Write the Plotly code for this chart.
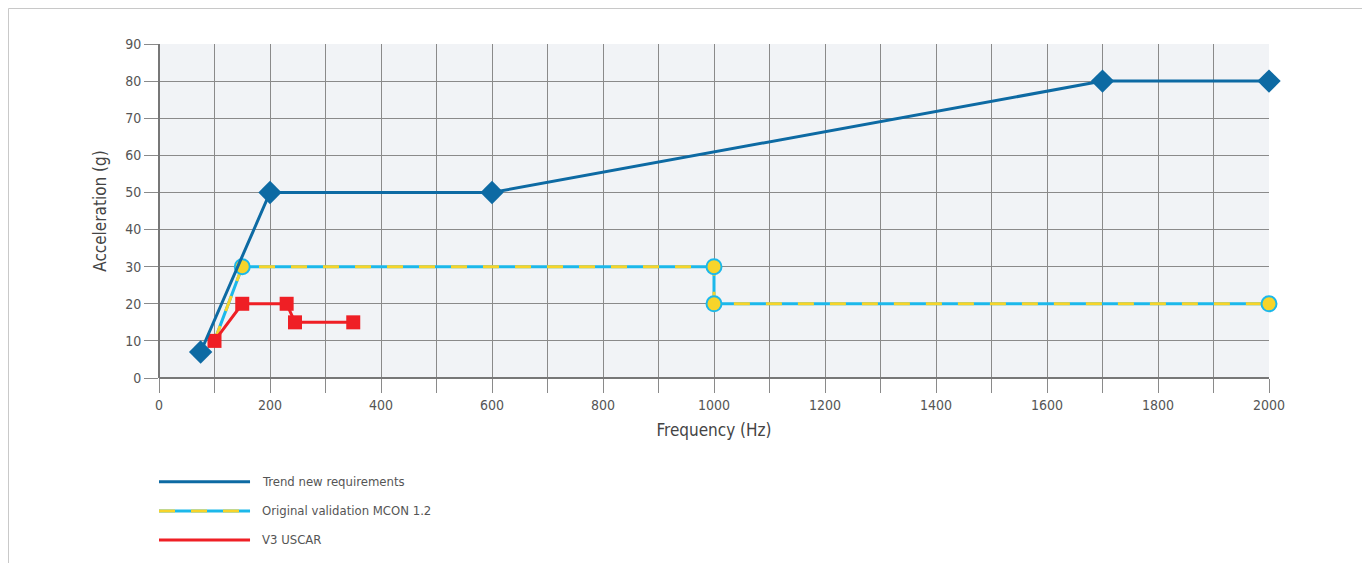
import plotly.graph_objects as go

# Data
trend_x = [75, 200, 600, 1700, 2000]
trend_y = [7, 50, 50, 80, 80]

orig_x = [100, 150, 1000, 1000, 2000]
orig_y = [10, 30, 30, 20, 20]

uscar_x = [100, 150, 230, 245, 350]
uscar_y = [10, 20, 20, 15, 15]

x_ticks = list(range(0, 2001, 100))
x_labels = [str(v) if v % 200 == 0 else "" for v in x_ticks]
y_ticks = list(range(0, 91, 10))

legend_names = ["Trend new requirements", "Original validation MCON 1.2", "V3 USCAR"]

BLUE = "#0d6aa3"
CYAN = "#1cb8ea"
YELLOW = "#f7d42a"
RED = "#ef1f25"
FONT = "DejaVu Sans Condensed, Liberation Sans Narrow, sans-serif"

fig = go.Figure()

# Original validation: cyan solid base + yellow dashes on top
fig.add_trace(go.Scatter(x=orig_x, y=orig_y, mode="lines", cliponaxis=False,
                         line=dict(color=CYAN, width=3), hoverinfo="skip"))
fig.add_trace(go.Scatter(x=orig_x, y=orig_y, mode="lines", cliponaxis=False,
                         line=dict(color=YELLOW, width=3, dash="16px,16px"), hoverinfo="skip"))
fig.add_trace(go.Scatter(x=orig_x[1:], y=orig_y[1:], mode="markers", cliponaxis=False,
                         marker=dict(symbol="circle", size=15, color=YELLOW,
                                     line=dict(color=CYAN, width=2))))

# V3 USCAR
fig.add_trace(go.Scatter(x=uscar_x, y=uscar_y, mode="lines+markers", cliponaxis=False,
                         line=dict(color=RED, width=3),
                         marker=dict(symbol="square", size=14, color=RED)))

# Trend
fig.add_trace(go.Scatter(x=trend_x, y=trend_y, mode="lines+markers", cliponaxis=False,
                         line=dict(color=BLUE, width=3),
                         marker=dict(symbol="diamond", size=18, color=BLUE)))

# Manual legend
shapes = []
annotations = []
leg_y = [-0.311, -0.398, -0.485]
for i, (name, yy) in enumerate(zip(legend_names, leg_y)):
    if i == 0:
        shapes.append(dict(type="line", xref="paper", yref="paper", x0=0, x1=0.082,
                           y0=yy, y1=yy, line=dict(color=BLUE, width=3)))
    elif i == 1:
        shapes.append(dict(type="line", xref="paper", yref="paper", x0=0, x1=0.082,
                           y0=yy, y1=yy, line=dict(color=CYAN, width=3)))
        shapes.append(dict(type="line", xref="paper", yref="paper", x0=0, x1=0.082,
                           y0=yy, y1=yy, line=dict(color=YELLOW, width=3, dash="16px,16px")))
    else:
        shapes.append(dict(type="line", xref="paper", yref="paper", x0=0, x1=0.082,
                           y0=yy, y1=yy, line=dict(color=RED, width=3)))
    annotations.append(dict(text=name, xref="paper", yref="paper", x=0.091, y=yy,
                            xanchor="left", yanchor="middle", showarrow=False,
                            font=dict(family=FONT, size=13, color="#555")))

# Outer frame
shapes.append(dict(type="rect", xref="paper", yref="paper", x0=-0.1356, x1=1.0874,
                   y0=-0.62, y1=1.1063, line=dict(color="#c8c8c8", width=1),
                   fillcolor="rgba(0,0,0,0)", layer="below"))

fig.update_layout(
    width=1362, height=555,
    margin=dict(l=151, r=101, t=36, b=185),
    paper_bgcolor="white",
    plot_bgcolor="#f1f3f6",
    showlegend=False,
    shapes=shapes,
    annotations=annotations,
    font=dict(family=FONT, color="#555"),
)
fig.update_xaxes(
    range=[0, 2000], tickvals=x_ticks, ticktext=x_labels,
    showgrid=True, gridcolor="#8a8a8a", gridwidth=1,
    ticks="outside", ticklen=14, tickcolor="#8a8a8a", tickwidth=1,
    tickfont=dict(family=FONT, size=14, color="#555"),
    zeroline=True, zerolinecolor="#777", zerolinewidth=2,
    showline=False,
    title=dict(text="Frequency (Hz)", font=dict(family=FONT, size=17, color="#444"), standoff=12),
)
fig.update_yaxes(
    range=[0, 90], tickvals=y_ticks,
    showgrid=True, gridcolor="#8a8a8a", gridwidth=1,
    ticks="outside", ticklen=14, tickcolor="#8a8a8a", tickwidth=1,
    tickfont=dict(family=FONT, size=14, color="#555"),
    zeroline=True, zerolinecolor="#777", zerolinewidth=2,
    showline=False,
    title=dict(text="Acceleration (g)", font=dict(family=FONT, size=17, color="#444"), standoff=14),
)

fig.write_html("out.html")
